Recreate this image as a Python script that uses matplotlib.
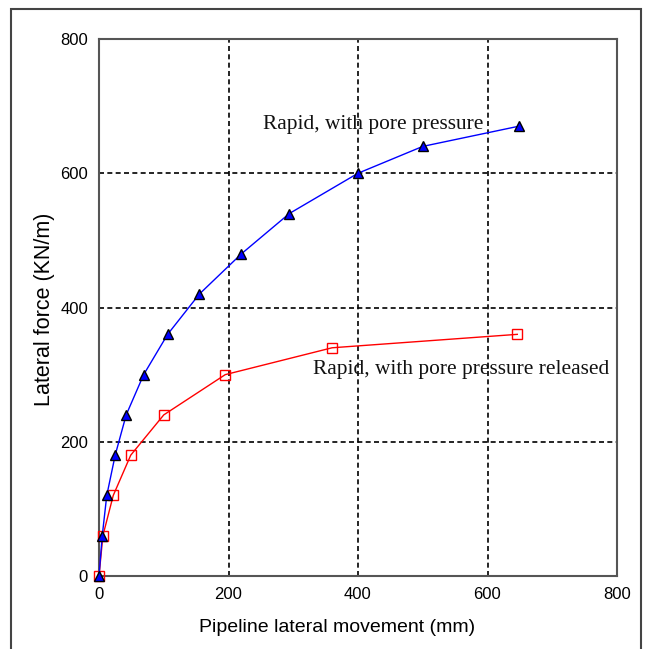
import numpy as np
import matplotlib
matplotlib.use('Agg')
import matplotlib.pyplot as plt
from matplotlib.patches import Rectangle

plt.rcParams['font.family'] = ['Liberation Sans', 'DejaVu Sans']

# pore pressure maintained
move_pp = [0, 5, 12, 25, 42, 69, 106, 155, 220, 294, 400, 500, 648]
force_pp = [0, 60, 120, 180, 240, 300, 360, 420, 480, 540, 600, 640, 670]

# pore pressure released
move_rel = [0, 6, 22, 49, 100, 195, 360, 646]
force_rel = [0, 60, 120, 180, 240, 300, 340, 360]

ticks = [0, 200, 400, 600, 800]

W, H = 646, 649
fig = plt.figure(figsize=(W/100, H/100), dpi=100)
ax = fig.add_axes([99/W, 1-576/H, 518/W, 537/H])

ax.plot(move_pp, force_pp, '-^', color='blue', lw=1, markersize=7,
        markerfacecolor='blue', markeredgecolor='black', markeredgewidth=1,
        zorder=4, clip_on=False)
ax.plot(move_rel, force_rel, '-s', color='red', lw=1, markersize=7,
        markerfacecolor='none', markeredgecolor='red', markeredgewidth=1,
        zorder=3, clip_on=False)

ax.set_xlim(0, 800)
ax.set_ylim(0, 800)
ax.set_xticks(ticks)
ax.set_yticks(ticks)
ax.tick_params(length=0, labelsize=12, pad=8)
for v in ticks[1:-1]:
    ax.axvline(v, color='black', ls=(0, (3, 2)), lw=1.2, zorder=1)
    ax.axhline(v, color='black', ls=(0, (3, 2)), lw=1.2, zorder=1)
for s in ax.spines.values():
    s.set_color('#555555')
    s.set_linewidth(1.5)

# axis titles placed where the reference has them
fig.text(337/W, 1-627/H, 'Pipeline lateral movement (mm)', fontsize=14,
         ha='center', va='center')
fig.text(45/W, 1-309/H, 'Lateral force (KN/m)', fontsize=15.5,
         ha='center', va='center', rotation=90)

ax.text(253, 672, 'Rapid, with pore pressure', family='Liberation Serif',
        fontsize=15.4, va='center', ha='left', color='#111111', zorder=2)
ax.text(330, 308, 'Rapid, with pore pressure released', family='Liberation Serif',
        fontsize=15.4, va='center', ha='left', color='#111111', zorder=2)

fig.patches.append(Rectangle((11/W, -0.05), 630/W, 1-9/H+0.05,
                             transform=fig.transFigure, fill=False,
                             edgecolor='#444444', lw=1.5))

fig.savefig('out.png', dpi=100)
